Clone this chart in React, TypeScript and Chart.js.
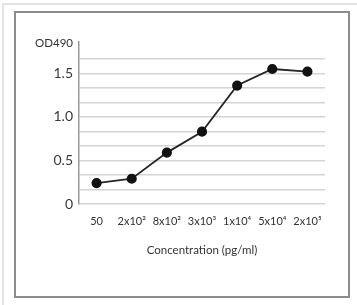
import React, { useEffect, useRef } from "react";
import { Chart, registerables } from "chart.js";

Chart.register(...registerables);

const categories = ["50", "2x10²", "8x10²", "3x10³", "1x10⁴", "5x10⁴", "2x10⁵"];
const odValues = [0.24, 0.29, 0.59, 0.83, 1.36, 1.55, 1.52];
const yTickLabels: Record<string, string> = { "0": "0", "0.5": "0.5", "1": "1.0", "1.5": "1.5" };
const yTitle = "OD490";
const xTitle = "Concentration (pg/ml)";

const FONT = "Lato, 'Open Sans', sans-serif";

export default function App() {
  const ref = useRef<HTMLCanvasElement | null>(null);

  useEffect(() => {
    if (!ref.current) return;
    const titles = {
      id: "axisTitles",
      afterDraw(chart: any) {
        const { ctx, chartArea } = chart;
        ctx.save();
        ctx.fillStyle = "#333";
        ctx.font = `11.5px ${FONT}`;
        ctx.textAlign = "right";
        ctx.textBaseline = "middle";
        ctx.fillText(yTitle, chartArea.left - 6, chartArea.top + 1);
        ctx.font = `11.5px ${FONT}`;
        ctx.textAlign = "center";
        ctx.fillText(xTitle, (chartArea.left + chartArea.right) / 2, chartArea.bottom + 46);
        ctx.restore();
      },
    };
    const chart = new Chart(ref.current, {
      type: "line",
      data: {
        labels: categories,
        datasets: [
          {
            data: odValues,
            borderColor: "#262626",
            borderWidth: 1.8,
            pointRadius: 4.2,
            pointBackgroundColor: "#111",
            pointBorderColor: "#111",
            tension: 0,
          },
        ],
      },
      options: {
        animation: false,
        responsive: false,
        layout: { padding: { left: 0, right: 32, top: 42, bottom: 0 } },
        plugins: { legend: { display: false }, tooltip: { enabled: false } },
        scales: {
          x: {
            offset: true,
            grid: { display: false, drawTicks: false },
            border: { display: false },
            ticks: { color: "#333", font: { family: FONT, size: 11 }, padding: 11, maxRotation: 0, autoSkip: false },
            afterFit: (s: any) => { s.height = 101; },
          },
          y: {
            min: 0,
            max: 1.86,
            afterBuildTicks: (s: any) => {
              s.ticks = [0, 1, 2, 3, 4, 5, 6, 7, 8, 9, 10].map((i) => ({ value: i / 6 }));
            },
            grid: { color: "#d4d4d4", lineWidth: 1.5, drawTicks: false },
            border: { display: true, color: "#9a9a9a", width: 1.5 },
            ticks: {
              color: "#3a3a3a",
              font: { family: FONT, size: 14 },
              padding: 6,
              autoSkip: false,
              callback: (v: any) => {
                const key = String(Math.round(Number(v) * 100) / 100);
                return yTickLabels[key] ?? "";
              },
            },
            afterFit: (s: any) => { s.width = 79; },
          },
        },
      },
      plugins: [titles],
    });
    return () => chart.destroy();
  }, []);

  return (
    <div style={{ position: "fixed", left: 0, top: 0, width: 357, height: 305, background: "#fff", overflow: "hidden" }}>
      <div style={{ position: "absolute", left: 2, top: 3, width: 400, height: 400, borderTop: "2px solid #e2e2e2", borderLeft: "2px solid #e2e2e2" }} />
      <div style={{ position: "absolute", left: 14, top: 11, width: 332, height: 283, border: "2px solid #8c8c8c" }} />
      <canvas ref={ref} width={357} height={305} style={{ position: "absolute", left: 0, top: 0 }} />
    </div>
  );
}
